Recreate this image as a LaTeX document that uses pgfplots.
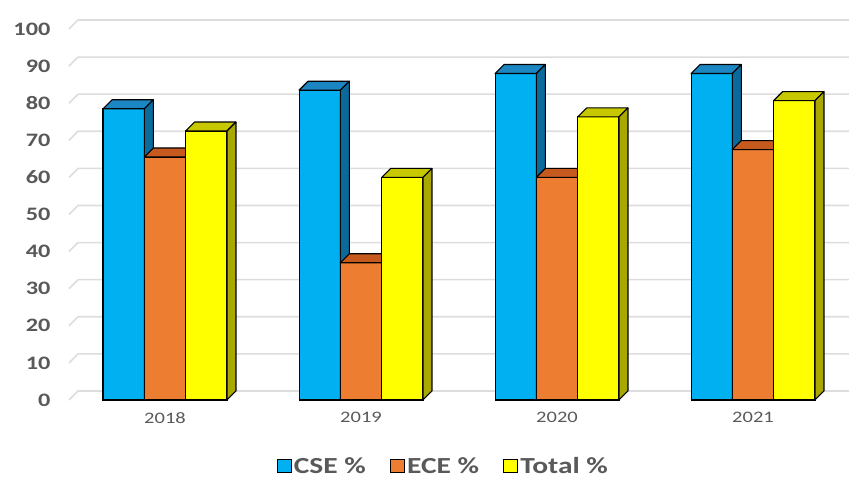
\documentclass[border=0pt]{standalone}
\usepackage{pgfplots}
\pgfplotsset{compat=1.18}
\usepackage{pgfplotstable}
\usepackage{fontspec}
\setmainfont{Carlito}[FakeStretch=1.28]

\definecolor{cse}{HTML}{00B0F0}
\definecolor{cseTop}{HTML}{1C86C2}
\definecolor{cseSide}{HTML}{0A6A9C}
\definecolor{ece}{HTML}{ED7D31}
\definecolor{eceTop}{HTML}{C65A1E}
\definecolor{eceSide}{HTML}{A84A16}
\definecolor{tot}{HTML}{FFFF00}
\definecolor{totTop}{HTML}{C8C800}
\definecolor{totSide}{HTML}{A8A800}
\definecolor{labgray}{HTML}{595959}
\definecolor{gridc}{HTML}{DDDDDD}

\pgfdeclareplotmark{nothing}{}
\newdimen\barH

% pass rates per year
\pgfplotstableread{
x  cse   ece   total
0  78.5  65.5  72.5
1  83.5  37    60
2  88    60    76.3
3  88    67.5  80.7
}\rates

% one face of a column: fill colour, then four corners
\newcommand\face[5]{%
  \pgfscope
  \pgfpathmoveto{#2}\pgfpathlineto{#3}\pgfpathlineto{#4}\pgfpathlineto{#5}\pgfpathclose
  \pgfsetfillcolor{#1}\pgfsetstrokecolor{black}\pgfsetlinewidth{1.1pt}\pgfsetroundjoin
  \pgfusepath{fill,stroke}%
  \endpgfscope}

\pgfplotsset{
  front/.style 2 args={ybar, bar width=41.3pt, bar shift=#1, fill=#2, draw=black,
    line width=1.1pt,
    legend image code/.code={\draw[fill=#2,draw=black,line width=1.2pt] (0pt,-6.5pt) rectangle (14pt,6.5pt);}},
  % marks are drawn after all bars, so the column is drawn again here,
  % front, top and side, in the order of the series
  threed/.style n args={4}{forget plot, only marks, scatter, mark=nothing,
    visualization depends on={rawy \as \h},
    scatter/@pre marker code/.code={%
      \barH=\h pt \barH=3.71\barH
      \face{#4}{\pgfqpoint{\dimexpr#1-20.65pt\relax}{0pt}}{\pgfqpoint{\dimexpr#1+20.65pt\relax}{0pt}}%
        {\pgfqpoint{\dimexpr#1+20.65pt\relax}{-\barH}}{\pgfqpoint{\dimexpr#1-20.65pt\relax}{-\barH}}%
      \face{#2}{\pgfqpoint{\dimexpr#1-20.65pt\relax}{0pt}}{\pgfqpoint{\dimexpr#1-11.65pt\relax}{9pt}}%
        {\pgfqpoint{\dimexpr#1+29.65pt\relax}{9pt}}{\pgfqpoint{\dimexpr#1+20.65pt\relax}{0pt}}%
      \face{#3}{\pgfqpoint{\dimexpr#1+20.65pt\relax}{0pt}}{\pgfqpoint{\dimexpr#1+29.65pt\relax}{9pt}}%
        {\pgfqpoint{\dimexpr#1+29.65pt\relax}{\dimexpr9pt-\barH\relax}}{\pgfqpoint{\dimexpr#1+20.65pt\relax}{-\barH}}%
    },
    scatter/@post marker code/.code={}},
}

\begin{document}
\begin{tikzpicture}
\path[use as bounding box] (-67pt,-82pt) rectangle (782pt,400pt);
\begin{axis}[
  x=196pt, y=3.71pt,
  xmin=-0.5, xmax=3.5, ymin=0, ymax=100,
  clip=false,
  axis line style={draw=none},
  major tick length=0pt,
  tick style={draw=none},
  xtick={0,1,2,3}, xticklabels={2018,2019,2020,2021},
  ytick={0,10,...,100},
  /pgf/number format/assume math mode=true,
  xticklabel style={font=\fontsize{16}{18}\selectfont, text=labgray, yshift=-9pt},
  yticklabel style={font=\bfseries\fontsize{19}{20}\selectfont, text=labgray, xshift=-13pt},
  legend style={at={(0.48,-0.178)}, anchor=center, draw=none, fill=none,
    legend columns=-1, font=\bfseries\fontsize{23}{24}\selectfont, text=labgray,
    /tikz/every even column/.append style={column sep=22pt}},
]
\pgfplotsinvokeforeach{0,10,20,30,40,50,60,70,80,90,100}{
  \draw[gridc, line width=1.6pt] ([xshift=2pt]axis cs:-0.5,#1) -- ++(9pt,9pt)
    -- ([xshift=-2pt,yshift=9pt]axis cs:3.5,#1);
}
\addplot[front={-41.3pt}{cse}] table[x=x,y=cse] {\rates};
\addlegendentry{CSE \%}
\addplot[threed={-41.3pt}{cseTop}{cseSide}{cse}] table[x=x,y=cse] {\rates};
\addplot[front={0pt}{ece}] table[x=x,y=ece] {\rates};
\addlegendentry{ECE \%}
\addplot[threed={0pt}{eceTop}{eceSide}{ece}] table[x=x,y=ece] {\rates};
\addplot[front={41.3pt}{tot}] table[x=x,y=total] {\rates};
\addlegendentry{Total \%}
\addplot[threed={41.3pt}{totTop}{totSide}{tot}] table[x=x,y=total] {\rates};
\end{axis}
\end{tikzpicture}
\end{document}
